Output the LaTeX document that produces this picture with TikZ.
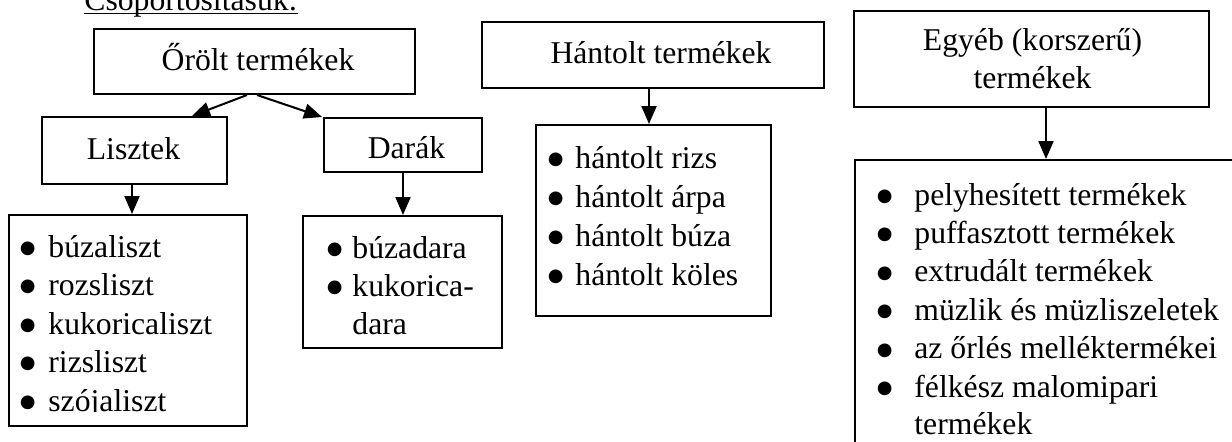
\documentclass[tikz,border=0pt]{standalone}
\usepackage{fontspec}
\setmainfont{Liberation Serif}
\newfontfamily\dejavu{DejaVu Sans}
\usetikzlibrary{fit,calc,arrows.meta}
\newcommand\bl[1]{\makebox[#1][l]{\hspace*{0pt}\raisebox{1.8pt}{\dejavu\fontsize{9pt}{9pt}\selectfont ●}}}
\tikzset{
  boxshape/.style={draw, line width=1pt, inner sep=0pt},
  lbl/.style={inner sep=0pt, font=\fontsize{15.85pt}{19pt}\selectfont},
  arr/.style={line width=1pt, -{Triangle[length=9pt,width=7.5pt]}}
}
\begin{document}
\begin{tikzpicture}[x=0.5pt,y=-0.5pt]
\useasboundingbox (0,0) rectangle (1232,441);
\clip (0,0) rectangle (1232,441);
% heading
\node[lbl, anchor=base west] (head) at (84,10) {Csoportosításuk:};
\draw[line width=0.9pt] ($(head.base west)+(0,3.5)$) -- ($(head.base east)+(0,3.5)$);
% boxes
\node[boxshape, fit={(94,29) (415,94)}] (orolt) {};
\node[boxshape, fit={(42,117) (227,184)}] (lisztek) {};
\node[boxshape, fit={(324,118) (482,172)}] (darak) {};
\node[boxshape, fit={(482,22) (824,88)}] (hantolt) {};
\node[boxshape, fit={(854,11) (1209,107)}] (egyeb) {};
\node[boxshape, fit={(9,215) (247,426)}] (lisztlist) {};
\node[boxshape, fit={(303,216) (502,348)}] (daralist) {};
\node[boxshape, fit={(536,125) (771,316)}] (hantlist) {};
\node[boxshape, fit={(855,160) (1260,470)}] (egyeblist) {};
% box labels
\node[lbl, anchor=base] (toolt) at (258,70) {Őrölt termékek};
\node[lbl, anchor=base] (tliszt) at (133.5,159) {Lisztek};
\node[lbl, anchor=base] (tdara) at (406.5,158) {Darák};
\node[lbl, anchor=base] (thant) at (661,63) {Hántolt termékek};
\node[lbl, anchor=base] (tegy1) at (1032.5,50) {Egyéb (korszerű)};
\node[lbl, anchor=base] (tegy2) at (1032.5,88) {termékek};
% lists
\begin{scope}
\clip (0,0) rectangle (300,411.5);
\foreach \t [count=\i] in {búzaliszt, rozsliszt, kukoricaliszt, rizsliszt, szójaliszt}
  \node[lbl, anchor=base west] (li-\i) at (19.5,{257+38.5*(\i-1)}) {\bl{14.25pt}\t};
\end{scope}
\node[lbl, anchor=base west] (da-1) at (326.5,258) {\bl{12.75pt}búzadara};
\node[lbl, anchor=base west] (da-2) at (326.5,296.5) {\bl{12.75pt}kukorica-};
\node[lbl, anchor=base west] (da-3) at (326.5,334) {\hspace*{12.75pt}dara};
\foreach \t [count=\i] in {hántolt rizs, hántolt árpa, hántolt búza, hántolt köles}
  \node[lbl, anchor=base west] (ha-\i) at (547.5,{168+39*(\i-1)}) {\bl{13.75pt}\t};
\foreach \t [count=\i] in {pelyhesített termékek, puffasztott termékek, extrudált termékek, müzlik és müzliszeletek, az őrlés melléktermékei, félkész malomipari}
  \node[lbl, anchor=base west] (eg-\i) at (876.5,{205+38.4*(\i-1)}) {\bl{18.75pt}\t};
\node[lbl, anchor=base west] (eg-7) at (876.5,434) {\hspace*{18.75pt}termékek};
% arrows
\draw[arr] ($(orolt.south west)+(154,0)$) -- ($(lisztek.north west)+(151,0)$);
\draw[arr] ($(orolt.south west)+(164,0)$) -- ($(darak.north west)+(-1,0)$);
\draw[arr] ($(lisztek.south west)+(91,0)$) -- ($(lisztlist.north west)+(124,0)$);
\draw[arr] ($(darak.south west)+(80,0)$) -- ($(daralist.north west)+(101,0)$);
\draw[arr] ($(hantolt.south west)+(168,0)$) -- ($(hantlist.north west)+(114,0)$);
\draw[arr] ($(egyeb.south west)+(193,0)$) -- ($(egyeblist.north west)+(192,0)$);
\end{tikzpicture}
\end{document}
